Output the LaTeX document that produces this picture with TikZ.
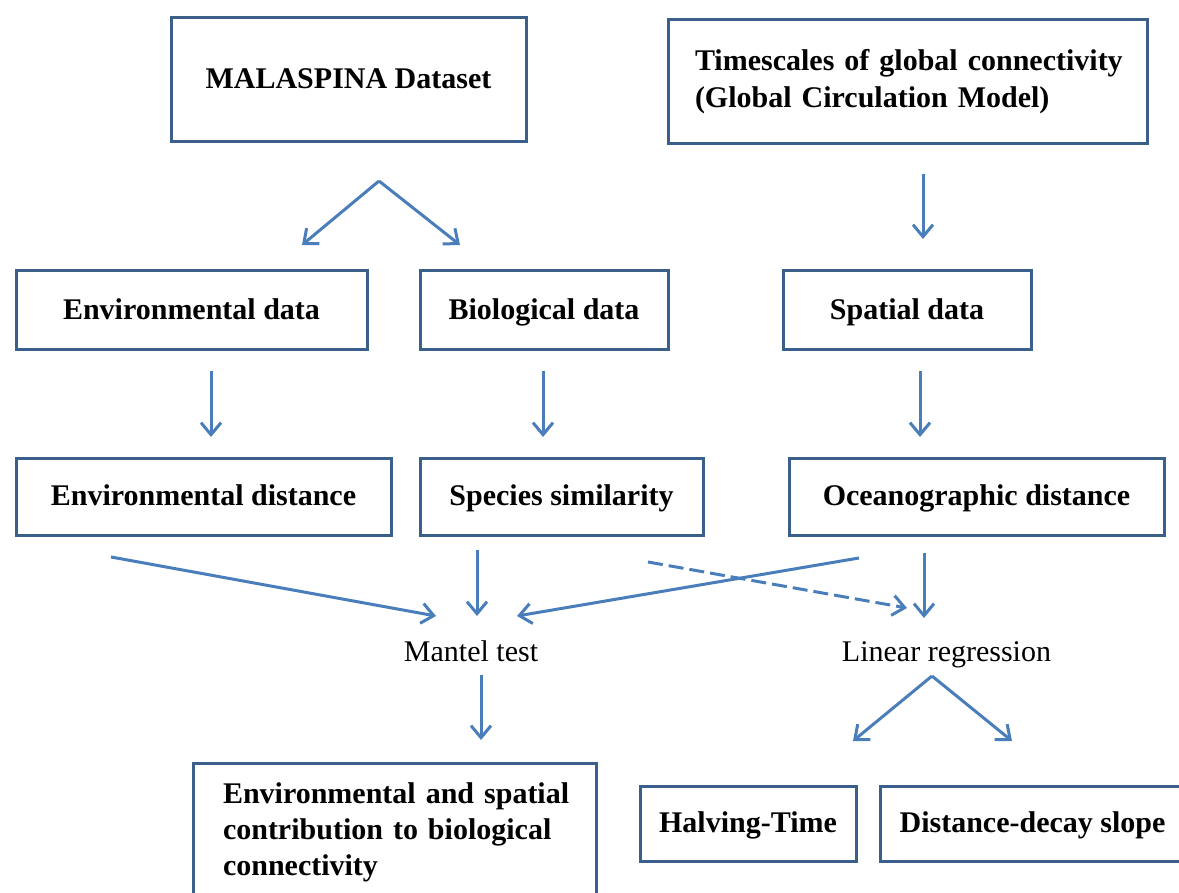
\documentclass[tikz,border=0pt]{standalone}
\usepackage{fontspec}
\setmainfont{Liberation Serif}
\usetikzlibrary{arrows.meta}
\definecolor{boxc}{HTML}{3A5F8B}
\definecolor{arrc}{HTML}{4A7EBB}
\begin{document}
\begin{tikzpicture}[x=1pt,y=-1pt,
  box/.style={draw=boxc,line width=3pt,inner sep=0pt,
    font=\fontsize{30}{37}\selectfont\bfseries,align=center},
  onebox/.style={box,text height=18pt,text depth=0pt},
  plain/.style={inner sep=0pt,font=\fontsize{30}{36}\selectfont,anchor=base},
  conn/.style={draw=arrc,line width=3pt,-{Straight Barb[length=12pt,width=20pt]}},
  dashconn/.style={conn,dash pattern=on 15pt off 6pt}]
\useasboundingbox (0,0) rectangle (1179,893);
\clip (0,0) rectangle (1179,893);

% boxes
\node[onebox,minimum width=355pt,minimum height=124pt] (mal) at (348.5,80) {MALASPINA Dataset};
\node[box,align=left,text width=425pt,inner xsep=27pt,minimum height=124pt] (tim) at (907.5,82)
  {\mbox{Timescales of global connectivity}\\\mbox{(Global Circulation Model)}};
\node[onebox,minimum width=351pt,minimum height=79pt] (envd) at (191.5,310.5) {Environmental data};
\node[onebox,minimum width=248pt,minimum height=79pt] (bio) at (544,310.5) {Biological data};
\node[onebox,minimum width=248pt,minimum height=79pt] (spa) at (907,310.5) {Spatial data};
\node[onebox,minimum width=375pt,minimum height=77pt] (envdist) at (203.5,496.5) {Environmental distance};
\node[onebox,minimum width=283pt,minimum height=77pt] (spec) at (561.5,496.5) {Species similarity};
\node[onebox,minimum width=375pt,minimum height=77pt] (oce) at (976.5,496.5) {Oceanographic distance};
\node[plain] (mantel) at (471,661) {Mantel test};
\node[plain] (linreg) at (946.5,661) {Linear regression};
\node[box,align=left,text width=343pt,inner xsep=30pt,minimum height=139pt] (contrib) at (394.5,832.5)
  {\mbox{Environmental and spatial}\\[-1pt]\mbox{contribution to biological}\\[-1pt]\mbox{connectivity}};
\node[onebox,minimum width=216pt,minimum height=75pt] (halv) at (748,823.5) {Halving-Time};
\node[onebox,minimum width=305pt,minimum height=75pt] (dds) at (1032.5,823.5) {Distance-decay slope};

% connector end points
\coordinate (malapex) at (379,181);
\coordinate (malL) at (302,245);
\coordinate (malR) at (460,245);
\coordinate (timS) at (923,174);
\coordinate (timE) at (923,239);
\coordinate (envS) at (211,371);
\coordinate (envE) at (211,437);
\coordinate (bioS) at (543,371);
\coordinate (bioE) at (543,437);
\coordinate (spaS) at (920,371);
\coordinate (spaE) at (920,437);
\coordinate (edS) at (111,557);
\coordinate (edE) at (436,616);
\coordinate (spS) at (477,550);
\coordinate (spE) at (477,616);
\coordinate (ocmS) at (859,558);
\coordinate (ocmE) at (517,616);
\coordinate (dashS) at (648,562);
\coordinate (dashE) at (907,608);
\coordinate (oclS) at (924,553);
\coordinate (oclE) at (924,618);
\coordinate (manS) at (481,675);
\coordinate (manE) at (481,740);
\coordinate (lrapex) at (932,676);
\coordinate (lrL) at (853,741);
\coordinate (lrR) at (1012,741);

% connectors
\draw[conn] (malapex) -- (malL);
\draw[conn] (malapex) -- (malR);
\draw[conn] (timS) -- (timE);
\draw[conn] (envS) -- (envE);
\draw[conn] (bioS) -- (bioE);
\draw[conn] (spaS) -- (spaE);
\draw[conn] (edS) -- (edE);
\draw[conn] (spS) -- (spE);
\draw[conn] (ocmS) -- (ocmE);
\draw[dashconn] (dashS) -- (dashE);
\draw[conn] (oclS) -- (oclE);
\draw[conn] (manS) -- (manE);
\draw[conn] (lrapex) -- (lrL);
\draw[conn] (lrapex) -- (lrR);
\end{tikzpicture}
\end{document}
